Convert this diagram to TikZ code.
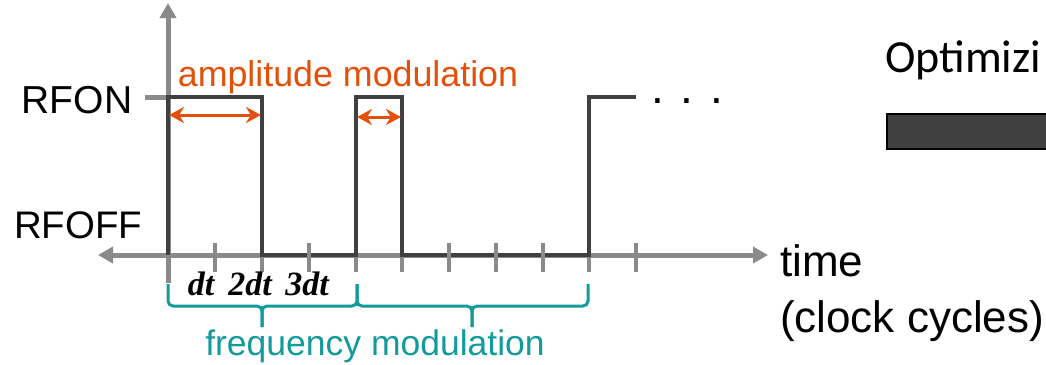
\documentclass[tikz,border=0pt]{standalone}
\usepackage{fontspec}
\setmainfont{Liberation Sans}
\newfontfamily\carlito{Carlito}
\newfontfamily\dtfont{Liberation Serif}
\usetikzlibrary{arrows.meta}
\definecolor{axisgray}{HTML}{8A8A8A}
\definecolor{wavegray}{HTML}{404040}
\definecolor{ampor}{HTML}{E2500A}
\definecolor{tealc}{HTML}{139A9C}
\begin{document}
\begin{tikzpicture}[x=1pt,y=-1pt,
  axisline/.style={draw=axisgray,line width=5pt},
  tickmark/.style={draw=axisgray,line width=4pt},
  wave/.style={draw=wavegray,line width=4pt,line join=miter},
  amparrow/.style={draw=ampor,line width=3pt,{Stealth[length=15pt,width=16pt]}-{Stealth[length=15pt,width=16pt]}},
  freqbrace/.style={draw=tealc,line width=3pt,rounded corners=5pt},
  lbl/.style={inner sep=0pt,outer sep=0pt},
  dtlbl/.style={lbl,anchor=base,font=\dtfont\fontsize{34}{34}\selectfont\bfseries\itshape}]
\useasboundingbox (0,0) rectangle (1046,364);
% coordinates
\coordinate (yb) at (168,283);
\coordinate (yt) at (168,3);
\coordinate (xl) at (98,255);
\coordinate (xr) at (768,255);
\coordinate (onl) at (145,97);
\coordinate (on0) at (168,97);
% axes
\draw[axisline,-{Triangle[length=15pt,width=16pt]}] (yb) -- (yt);
\draw[axisline,{Triangle[length=15pt,width=16pt]}-{Triangle[length=15pt,width=16pt]}] (xl) -- (xr);
\draw[axisline] (onl) -- (on0);
% ticks under waveform
\foreach \x in {168,262,356,402,589} \draw[tickmark] (\x,243) -- (\x,272);
% waveform
\coordinate (p0) at (168,255);
\coordinate (p1) at (168,97);
\coordinate (p2) at (262,97);
\coordinate (p3) at (262,255);
\coordinate (p4) at (356,255);
\coordinate (p5) at (356,97);
\coordinate (p6) at (402,97);
\coordinate (p7) at (402,255);
\coordinate (p8) at (589,255);
\coordinate (p9) at (589,97);
\coordinate (p10) at (636,97);
\draw[wave] (p0) -- (p1) -- (p2) -- (p3) -- (p4) -- (p5) -- (p6) -- (p7) -- (p8) -- (p9) -- (p10);
% ticks over waveform
\foreach \x in {215,309,449,496,543,636} \draw[tickmark] (\x,243) -- (\x,272);
% amplitude arrows
\coordinate (a1l) at (169,115);
\coordinate (a1r) at (261,115);
\coordinate (a2l) at (357,117);
\coordinate (a2r) at (401,117);
\draw[amparrow] (a1l) -- (a1r);
\draw[amparrow] (a2l) -- (a2r);
% braces
\coordinate (b1l) at (168,284);
\coordinate (b1m) at (262,306);
\coordinate (b1t) at (262,327);
\coordinate (b1r) at (357,284);
\coordinate (b2m) at (472,306);
\coordinate (b2t) at (472,327);
\coordinate (b2r) at (588,284);
\draw[freqbrace] (b1l) |- (b1m) -- (b1t);
\draw[freqbrace] (b1r) |- (b1m) -- (b1t);
\draw[freqbrace] (b1r) |- (b2m) -- (b2t);
\draw[freqbrace] (b2r) |- (b2m) -- (b2t);
% labels
\node[lbl,anchor=base] (rfon) at (77,113) {\fontsize{39}{39}\selectfont RFON};
\node[lbl,anchor=base] (rfoff) at (78,238) {\fontsize{38.4}{39}\selectfont RFOFF};
\node[lbl,anchor=base,text=ampor] (amp) at (348,86) {\fontsize{35.8}{36}\selectfont amplitude modulation};
\node[lbl,anchor=base,text=tealc] (freq) at (375,355) {\fontsize{35.5}{36}\selectfont frequency modulation};
\node[lbl,anchor=base west] (time) at (780,276) {\fontsize{44}{44}\selectfont time};
\node[lbl,anchor=base west] (clock) at (780,332) {\fontsize{44}{44}\selectfont (clock cycles)};
\node[lbl,anchor=base west] (dots) at (651,103) {\fontsize{46}{46}\selectfont . . .};
\node[dtlbl] (dt1) at (201,295) {dt};
\node[dtlbl] (dt2) at (250,295) {2dt};
\node[dtlbl] (dt3) at (307,295) {3dt};
\node[lbl,anchor=base west] (opt) at (885,72) {\carlito\fontsize{46}{46}\selectfont Optimizi};
\node[draw=black,line width=2pt,fill=wavegray,minimum width=170pt,minimum height=35pt,inner sep=0pt,anchor=north west] (bar) at (886,113) {};
\end{tikzpicture}
\end{document}
